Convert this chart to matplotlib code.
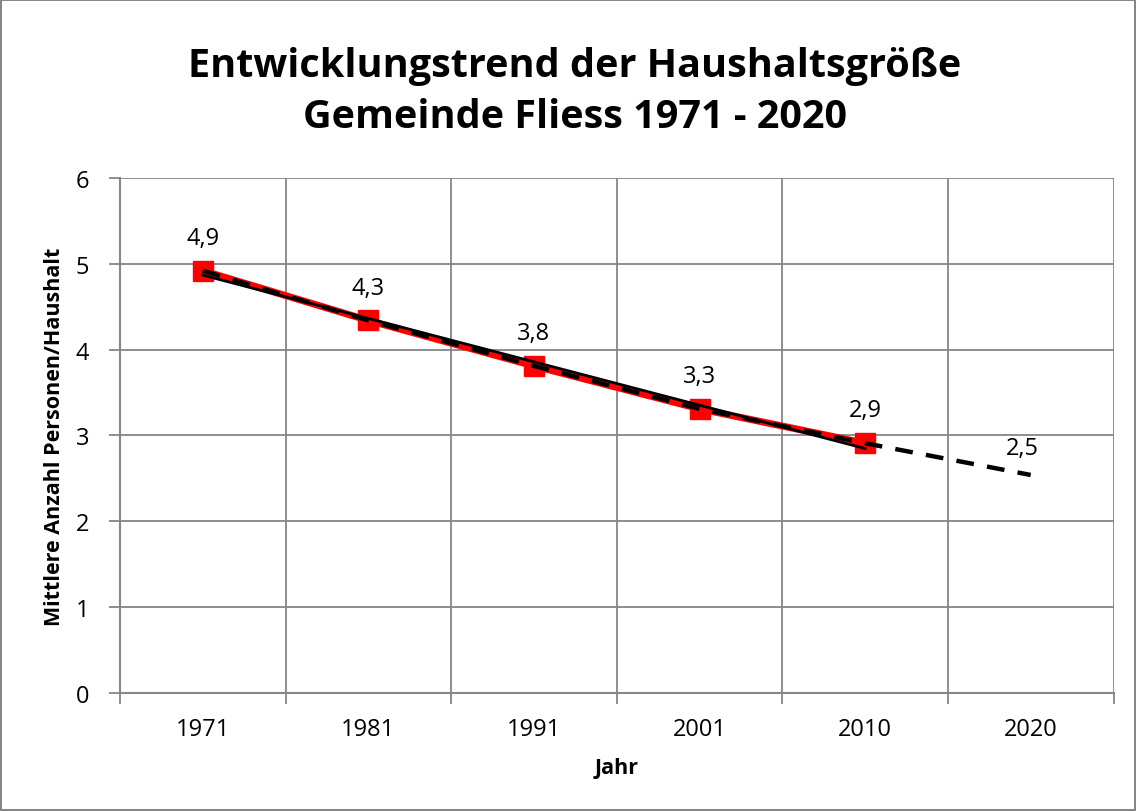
import numpy as np
import matplotlib
matplotlib.use("Agg")
import matplotlib.pyplot as plt
from matplotlib.ticker import MultipleLocator, FixedLocator

plt.rcParams['font.family'] = ['Open Sans', 'DejaVu Sans']

# daten
jahre = ['1971', '1981', '1991', '2001', '2010', '2020']
haushalt = [4.92, 4.34, 3.81, 3.31, 2.91]   # mittlere personen / haushalt
prognose_2020 = 2.54

x = np.arange(len(jahre))
x_ist = x[:len(haushalt)]
prognose = np.append(haushalt, prognose_2020)

grau = '#868686'

fig = plt.figure(figsize=(11.36, 8.12), dpi=100)
fig.patch.set_edgecolor(grau)
fig.patch.set_linewidth(1.5)
ax = fig.add_axes([0.1056, 0.1453, 0.8746, 0.6343])

# lineare trendlinie
k, d = np.polyfit(x_ist, haushalt, 1)

ax.plot(x_ist, haushalt, color='red', linewidth=5, marker='s', markersize=15,
        zorder=3)
ax.plot(x_ist, k * x_ist + d, color='black', linewidth=2, zorder=4)
ax.plot(x, prognose, color='black', linewidth=3.2, linestyle=(0, (4, 3)),
        zorder=5)

# beschriftungen
for xi, v in zip(x_ist, haushalt):
    ax.annotate(f"{v:.1f}".replace('.', ','), (xi, v), xytext=(0, 15),
                textcoords='offset points', ha='center', va='bottom', fontsize=17)
ax.annotate(f"{prognose_2020:.1f}".replace('.', ','), (x[-1], prognose_2020),
            xytext=(-6, 11), textcoords='offset points', ha='center',
            va='bottom', fontsize=17)

ax.set_xlim(-0.5, len(jahre) - 0.5)
ax.set_ylim(0, 6)
ax.yaxis.set_major_locator(MultipleLocator(1))
ax.set_xticks(x)
ax.set_xticklabels(jahre)
ax.xaxis.set_minor_locator(FixedLocator(np.arange(-0.5, len(jahre), 1)))
ax.tick_params(axis='x', which='major', length=0, pad=17, labelsize=17)
ax.tick_params(axis='x', which='minor', length=8, color=grau, width=1.3)
ax.tick_params(axis='y', length=8, color=grau, width=1.3, pad=14, labelsize=17)

ax.grid(axis='y', which='major', color=grau, linewidth=1.3)
ax.grid(axis='x', which='minor', color=grau, linewidth=1.3)
ax.set_axisbelow(True)
for s in ['top', 'right']:
    ax.spines[s].set_visible(False)
for s in ['left', 'bottom']:
    ax.spines[s].set_color(grau)
    ax.spines[s].set_linewidth(1.5)

ax.set_xlabel('Jahr', fontsize=15.5, fontweight='bold', labelpad=12)
ax.set_ylabel('Mittlere Anzahl Personen/Haushalt', fontsize=15.5,
              fontweight='bold', labelpad=8)

fig.text(0.506, 0.887, 'Entwicklungstrend der Haushaltsgröße\nGemeinde Fliess 1971 - 2020',
         ha='center', va='center', fontsize=28.5, fontweight='bold', linespacing=1.4)

fig.savefig('out.png', dpi=100)
